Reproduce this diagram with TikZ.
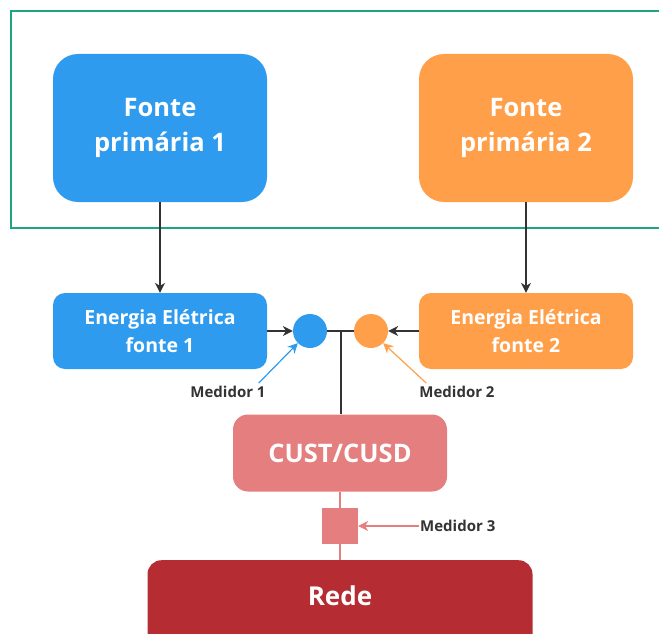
\documentclass[tikz,border=0pt]{standalone}
\usepackage{fontspec}
\setmainfont{Open Sans}
\usetikzlibrary{arrows.meta}
\definecolor{fonteazul}{HTML}{2E9BEF}
\definecolor{fontelaranja}{HTML}{FF9F4A}
\definecolor{verdeborda}{HTML}{1FA383}
\definecolor{rosacust}{HTML}{E57E7E}
\definecolor{vermelhorede}{HTML}{B52D33}
\definecolor{cinzatexto}{HTML}{333333}
\begin{document}
\begin{tikzpicture}[x=1pt, y=-1pt,
    fonte/.style = {rounded corners=25pt, minimum width=214pt, minimum height=148pt, align=center, text=white, font=\bfseries\fontsize{25.5}{35}\selectfont},
    energia/.style = {rounded corners=12pt, minimum width=214pt, minimum height=76pt, align=center, text=white, font=\bfseries\fontsize{19.5}{28}\selectfont},
    medidor/.style = {circle, minimum size=34pt, inner sep=0pt},
    rotulo/.style = {text=cinzatexto, font=\bfseries\fontsize{15}{17}\selectfont, inner sep=1pt},
    seta/.style = {-{Stealth[length=10pt, width=10pt]}, line width=1.2pt}]
  \useasboundingbox (0,0) rectangle (659,634);
  \clip (0,0) rectangle (659,634);
  \draw[verdeborda, line width=2.2pt] (11,11) rectangle (680,228);
  \node[fonte, fill=fonteazul] (f1) at (160,128) {Fonte\\primária 1};
  \node[fonte, fill=fontelaranja] (f2) at (526,128) {Fonte\\primária 2};
  \node[energia, fill=fonteazul] (e1) at (160,331) {Energia Elétrica\\fonte 1};
  \node[energia, fill=fontelaranja] (e2) at (526,331) {Energia Elétrica\\fonte 2};
  \node[medidor, fill=fonteazul] (m1) at (310,331) {};
  \node[medidor, fill=fontelaranja] (m2) at (371,331) {};
  \coordinate (j) at (341,331);
  \node[rounded corners=15pt, fill=rosacust, minimum width=214pt, minimum height=77pt, text=white, font=\bfseries\fontsize{25.5}{30}\selectfont] (cust) at (340,453) {CUST/CUSD};
  \node[fill=rosacust, minimum size=36pt, inner sep=0pt] (m3) at (340,526) {};
  \node[rounded corners=14pt, fill=vermelhorede, minimum width=385pt, minimum height=100pt, anchor=north] (rede) at (340,560) {};
  \node[text=white, font=\bfseries\fontsize{26}{30}\selectfont] (redetxt) at (340,596) {Rede};
  \node[rotulo] (l1) at (228,392) {Medidor 1};
  \node[rotulo] (l2) at (457,392) {Medidor 2};
  \node[rotulo, anchor=west] (l3) at (419,526) {Medidor 3};
  % conexoes
  \draw[seta, cinzatexto] (f1) -- (e1);
  \draw[seta, cinzatexto] (f2) -- (e2);
  \draw[seta, cinzatexto] (e1) -- (m1);
  \draw[seta, cinzatexto] (e2) -- (m2);
  \draw[cinzatexto, line width=1.2pt] (m1) -- (m2);
  \draw[cinzatexto, line width=1.2pt] (j) -- (cust.north -| j);
  \draw[rosacust, line width=1.2pt] (cust) -- (m3) -- (rede.north);
  \draw[seta, fonteazul] (l1.north east) ++(-8,-2) coordinate (a1) (a1) -- (m1.south west);
  \draw[seta, fontelaranja] (l2.north west) ++(8,-2) coordinate (a2) (a2) -- (m2.south east);
  \draw[seta, rosacust] (l3.west) -- (m3.east);
\end{tikzpicture}
\end{document}
